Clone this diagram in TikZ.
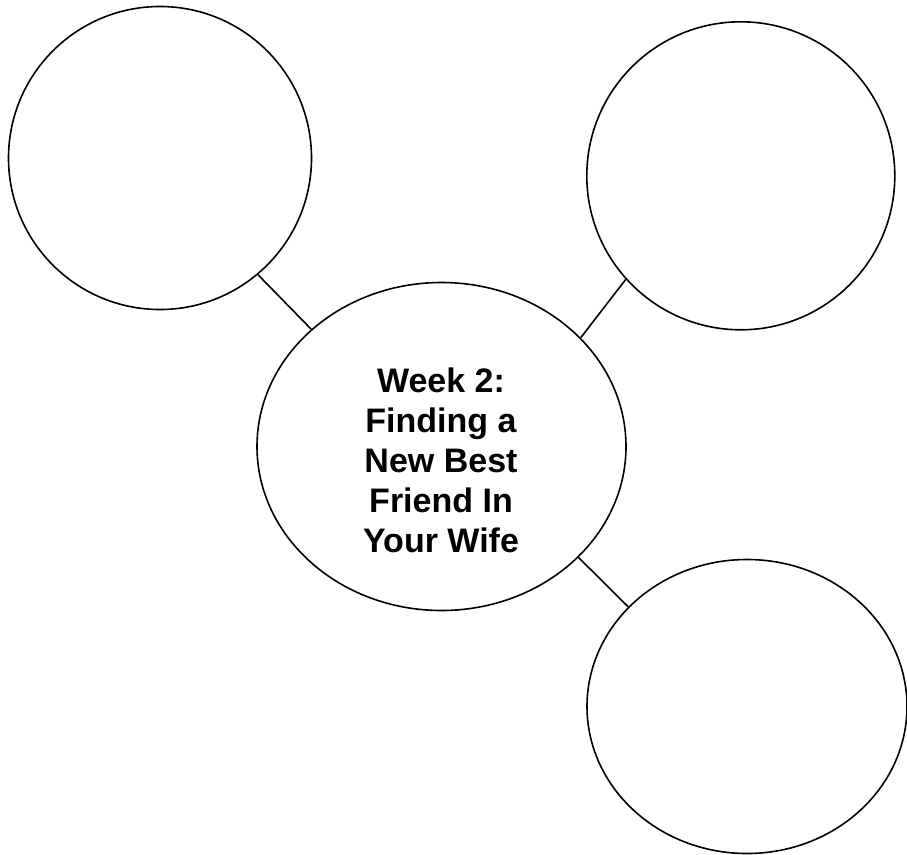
\documentclass[tikz,border=0pt]{standalone}
\usepackage{fontspec}
\setmainfont{Liberation Sans}
\usetikzlibrary{shapes.geometric}
\begin{document}
\begin{tikzpicture}[x=1pt,y=-1pt,
  bubble/.style={draw=black, line width=1.6pt, inner sep=0pt},
  link/.style={draw=black, line width=1.6pt},
  title/.style={font=\fontsize{34}{40}\selectfont\bfseries, align=center, inner sep=0pt}]
\useasboundingbox (0,0) rectangle (907,854);
\node[bubble, circle, minimum size=303pt] (tl) at (160,158) {};
\node[bubble, circle, minimum size=308pt] (tr) at (740.8,175.8) {};
\node[bubble, ellipse, minimum width=369pt, minimum height=328pt] (hub) at (441.5,446.5) {};
\node[bubble, ellipse, minimum width=320pt, minimum height=294pt] (br) at (747,706.5) {};
\node[title] (label) at (441,460.5) {Week 2:\\Finding a\\New Best\\Friend In\\Your Wife};
\draw[link] (tl.-50.7) -- (hub.138.1);
\draw[link] (tr.-138.5) -- (hub.38.75);
\draw[link] (hub.-39.7) -- (br.140.1);
\end{tikzpicture}
\end{document}
